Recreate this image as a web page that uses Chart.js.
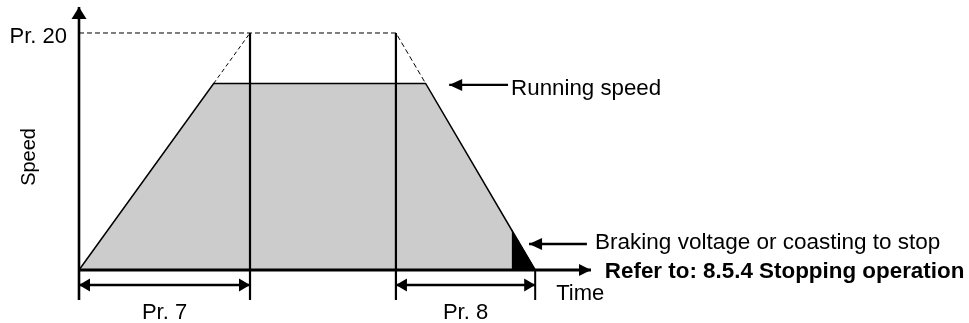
<!DOCTYPE html>
<html>
<head>
<meta charset="utf-8">
<script src="https://cdn.jsdelivr.net/npm/chart.js@4.4.1/dist/chart.umd.min.js"></script>
<style>
  html, body { margin: 0; padding: 0; background: #ffffff; }
  #wrap { width: 969px; height: 323px; }
</style>
</head>
<body>
<div id="wrap"><canvas id="chart" width="969" height="323"></canvas></div>
<script>
// ---- Speed profile (time in arbitrary units, speed in % of Pr. 20) ----
const profileTime  = [0, 26.3, 67.7, 89.1];
const profileSpeed = [0, 78.7, 78.7, 0];

// Braking voltage / coasting segment at the end of deceleration
const brakeTime  = [84.5, 89.1];
const brakeSpeed = [16.9, 0];

// Parameter levels
const maxSpeed     = 100;   // Pr. 20
const runningSpeed = 78.7;
const accelEnd     = 33.4;  // end of Pr. 7 time
const decelStart   = 61.9;  // start of Pr. 8 time
const stopTime     = 89.1;  // end of Pr. 8 time

// Text
const tickLabels  = ['Pr. 20'];
const axisTitles  = ['Speed', 'Time'];
const spanLabels  = ['Pr. 7', 'Pr. 8'];
const calloutText = ['Running speed', 'Braking voltage or coasting to stop'];
const noteText    = ['Refer to: 8.5.4 Stopping operation'];

// Layout helpers (in data units of the scales below)
const axisBottom = -12.7;
const axisTop    = 111;
const xAxisEnd   = 100;
const bracketY   = -6.3;

const pts = (xs, ys) => xs.map((x, i) => ({ x, y: ys[i] }));
const seg = (x1, y1, x2, y2) => [{ x: x1, y: y1 }, { x: x2, y: y2 }];

const FONT = '"Liberation Sans", Arial, sans-serif';

const solid = (data, width, extra) => Object.assign({
  data, borderColor: '#000', borderWidth: width, pointRadius: 0,
  fill: false, tension: 0, borderCapStyle: 'butt', order: 1
}, extra || {});

const datasets = [
  // shaded speed area
  {
    data: pts(profileTime, profileSpeed),
    borderColor: '#000', borderWidth: 1.5, backgroundColor: '#cccccc',
    fill: 'origin', pointRadius: 0, tension: 0, order: 10
  },
  // black braking / coasting area
  {
    data: pts(brakeTime, brakeSpeed),
    borderColor: '#000', borderWidth: 1, backgroundColor: '#000000',
    fill: 'origin', pointRadius: 0, tension: 0, order: 9
  },
  // dashed Pr. 20 level and extrapolated ramps
  {
    data: [{ x: 0, y: maxSpeed }, { x: decelStart, y: maxSpeed }, { x: profileTime[2], y: runningSpeed }],
    borderColor: '#000', borderWidth: 1, borderDash: [5, 3], pointRadius: 0, fill: false, tension: 0, order: 8
  },
  {
    data: [{ x: profileTime[1], y: runningSpeed }, { x: accelEnd, y: maxSpeed }],
    borderColor: '#000', borderWidth: 1, borderDash: [4, 3], pointRadius: 0, fill: false, tension: 0, order: 8
  },
  // vertical time markers
  solid(seg(accelEnd, maxSpeed, accelEnd, axisBottom), 2.2),
  solid(seg(decelStart, maxSpeed, decelStart, axisBottom), 2.2),
  solid(seg(stopTime, 0, stopTime, axisBottom), 2),
  // axes with arrowheads
  solid(seg(0, axisBottom, 0, axisTop), 2.6, { arrowEnd: true, arrowLen: 12, arrowWidth: 15 }),
  solid(seg(0, 0, xAxisEnd, 0), 2.8, { arrowEnd: true, arrowLen: 12, arrowWidth: 12 }),
  // Pr. 7 / Pr. 8 span arrows
  solid(seg(0, bracketY, accelEnd, bracketY), 2.6, { arrowStart: true, arrowEnd: true, arrowLen: 11, arrowWidth: 13 }),
  solid(seg(decelStart, bracketY, stopTime, bracketY), 2.6, { arrowStart: true, arrowEnd: true, arrowLen: 11, arrowWidth: 13 }),
  // callout arrows
  solid(seg(83.8, 78.1, 72.3, 78.1), 2.4, { arrowEnd: true, arrowLen: 13, arrowWidth: 12 }),
  solid(seg(99.2, 11.0, 87.9, 11.0), 2.4, { arrowEnd: true, arrowLen: 13, arrowWidth: 12 })
];

// Text placed at scale coordinates
const labels = [
  { text: tickLabels[0],  x: -2.34, y: 95.8, align: 'right',  size: 22 },
  { text: axisTitles[0],  x: -9.6,  y: 47.7, align: 'center', size: 20, rotate: true },
  { text: axisTitles[1],  x: 93.2,  y: -12.7, align: 'left',  size: 22 },
  { text: spanLabels[0],  x: accelEnd / 2, y: -20.7, align: 'center', size: 22 },
  { text: spanLabels[1],  x: (decelStart + stopTime) / 2, y: -20.5, align: 'center', size: 22 },
  { text: calloutText[0], x: 84.4,  y: 73.8, align: 'left', size: 22.3 },
  { text: calloutText[1], x: 100.8, y: 8.9,  align: 'left', size: 22.5 },
  { text: noteText[0],    x: 102.7, y: -3.4, align: 'left', size: 22.4, bold: true }
];

const arrowsAndText = {
  id: 'arrowsAndText',
  afterDatasetsDraw(chart) {
    const ctx = chart.ctx;
    const xs = chart.scales.x, ys = chart.scales.y;
    chart.data.datasets.forEach((ds, i) => {
      if (!ds.arrowEnd && !ds.arrowStart) return;
      const els = chart.getDatasetMeta(i).data;
      const head = (tip, from) => {
        const ang = Math.atan2(tip.y - from.y, tip.x - from.x);
        const L = ds.arrowLen, W = ds.arrowWidth / 2;
        ctx.save();
        ctx.translate(tip.x, tip.y);
        ctx.rotate(ang);
        ctx.beginPath();
        ctx.moveTo(0, 0);
        ctx.lineTo(-L, -W);
        ctx.lineTo(-L, W);
        ctx.closePath();
        ctx.fillStyle = '#000';
        ctx.fill();
        ctx.restore();
      };
      const a = els[0], b = els[els.length - 1];
      if (ds.arrowEnd) head(b, a);
      if (ds.arrowStart) head(a, b);
    });

    ctx.save();
    ctx.fillStyle = '#000';
    labels.forEach(l => {
      const px = xs.getPixelForValue(l.x);
      const py = ys.getPixelForValue(l.y);
      ctx.font = (l.bold ? 'bold ' : '') + l.size + 'px ' + FONT;
      ctx.textAlign = l.align;
      ctx.save();
      ctx.translate(px, py);
      if (l.rotate) {
        ctx.rotate(-Math.PI / 2);
        ctx.textBaseline = 'middle';
      } else {
        ctx.textBaseline = 'alphabetic';
      }
      ctx.fillText(l.text, 0, 0);
      ctx.restore();
    });
    ctx.restore();
  }
};

new Chart(document.getElementById('chart'), {
  type: 'line',
  data: { datasets },
  options: {
    responsive: false,
    animation: false,
    events: [],
    devicePixelRatio: 1,
    layout: { padding: 0 },
    parsing: true,
    scales: {
      x: { type: 'linear', min: -15.43, max: 173.83, display: false },
      y: { type: 'linear', min: -22.36, max: 113.92, display: false }
    },
    plugins: {
      legend: { display: false },
      tooltip: { enabled: false },
      filler: { propagate: false }
    }
  },
  plugins: [arrowsAndText]
});
</script>
</body>
</html>
